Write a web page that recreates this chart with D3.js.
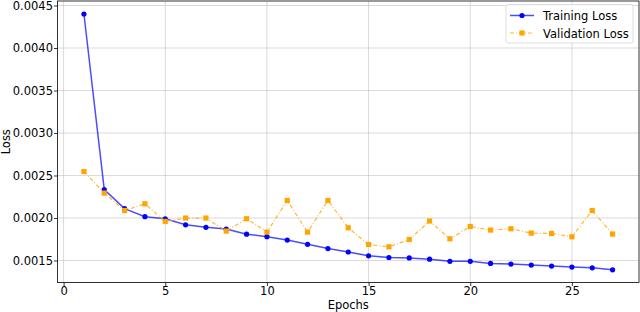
<!DOCTYPE html>
<html>
<head>
<meta charset="utf-8">
<script src="https://cdn.jsdelivr.net/npm/d3@7"></script>
<style>
  body { margin: 0; background: #fff; }
  svg text { font-family: "DejaVu Sans", sans-serif; }
</style>
</head>
<body>
<svg width="640" height="312"></svg>
<script>
// data
var epochs = [1,2,3,4,5,6,7,8,9,10,11,12,13,14,15,16,17,18,19,20,21,22,23,24,25,26,27];
var trainLoss = [0.00440,0.002335,0.00211,0.002015,0.00199,0.00192,0.00189,0.00187,0.00181,0.00178,
                 0.00174,0.00169,0.00164,0.00160,0.001555,0.001535,0.00153,0.001515,0.00149,0.00149,
                 0.001465,0.001458,0.001446,0.001434,0.001422,0.001414,0.00139];
var valLoss = [0.002547,0.002293,0.002088,0.002167,0.001959,0.001999,0.001999,0.001846,0.001991,0.001834,
               0.002206,0.001834,0.002206,0.001885,0.001688,0.001661,0.001747,0.001964,0.001755,0.0019,
               0.001858,0.001873,0.001822,0.001818,0.001779,0.002088,0.001811];
var xTicks = [0,5,10,15,20,25];
var yTicks = [0.0015,0.0020,0.0025,0.0030,0.0035,0.0040,0.0045];

var margins = {top:1, left:57.5, right:1, bottom:29.5};
var width = 640 - margins.left - margins.right;
var height = 312 - margins.top - margins.bottom;

var svg = d3.select("svg");
var g = svg.append("g").attr("transform", "translate(" + margins.left + "," + margins.top + ")");

//scales
var xScale = d3.scaleLinear().domain([-0.3, 28.3]).range([0, width]);
var yScale = d3.scaleLinear().domain([0.001241, 0.004553]).range([height, 0]);

//grid
g.selectAll(".vgrid").data(xTicks).enter().append("line")
  .attr("x1", d => xScale(d)).attr("x2", d => xScale(d))
  .attr("y1", 0).attr("y2", height)
  .attr("stroke", "#b0b0b0").attr("stroke-opacity", 0.6).attr("stroke-width", 0.8);
g.selectAll(".hgrid").data(yTicks).enter().append("line")
  .attr("y1", d => yScale(d)).attr("y2", d => yScale(d))
  .attr("x1", 0).attr("x2", width)
  .attr("stroke", "#b0b0b0").attr("stroke-opacity", 0.6).attr("stroke-width", 0.8);

//axes
var xAxis = g.append("g")
  .attr("transform", "translate(0," + height + ")")
  .call(d3.axisBottom(xScale).tickValues(xTicks).tickSize(3.5).tickPadding(1));
var yAxis = g.append("g")
  .call(d3.axisLeft(yScale).tickValues(yTicks).tickSize(3.5).tickPadding(1).tickFormat(d3.format(".4f")));
[xAxis, yAxis].forEach(function(a){
  a.select(".domain").remove();
  a.selectAll("text").attr("font-size", 11.5).attr("fill", "#000").attr("font-family", "DejaVu Sans");
  a.selectAll("line").attr("stroke", "#000").attr("stroke-width", 0.8);
});

//frame
g.append("rect").attr("x", 0).attr("y", 0).attr("width", width).attr("height", height)
  .attr("fill", "none").attr("stroke", "#000").attr("stroke-width", 0.8);

//lines
var trainLine = d3.line().x((d, i) => xScale(epochs[i])).y(d => yScale(d));
g.append("path").datum(trainLoss)
  .attr("d", trainLine).attr("fill", "none")
  .attr("stroke", "#0000ff").attr("stroke-opacity", 0.7).attr("stroke-width", 1.5);
g.selectAll(".tdot").data(trainLoss).enter().append("circle")
  .attr("cx", (d, i) => xScale(epochs[i])).attr("cy", d => yScale(d))
  .attr("r", 2.6).attr("fill", "#0000ff");

g.append("path").datum(valLoss)
  .attr("d", trainLine).attr("fill", "none")
  .attr("stroke", "#ffa500").attr("stroke-opacity", 0.8).attr("stroke-width", 1.2)
  .attr("stroke-dasharray", "4,2,1,2");
g.selectAll(".vdot").data(valLoss).enter().append("rect")
  .attr("x", (d, i) => xScale(epochs[i]) - 2.6).attr("y", d => yScale(d) - 2.6)
  .attr("width", 5.2).attr("height", 5.2).attr("fill", "#ffa500");

//axis labels
svg.append("text").attr("x", margins.left + width / 2).attr("y", 309)
  .attr("text-anchor", "middle").attr("font-size", 11.5).text("Epochs");
svg.append("text").attr("transform", "translate(9.5," + (margins.top + height / 2) + ")rotate(-90)")
  .attr("text-anchor", "middle").attr("font-size", 11.5).text("Loss");

//legend
var leg = svg.append("g").attr("transform", "translate(506,4.5)");
leg.append("rect").attr("width", 127).attr("height", 38.5).attr("rx", 2)
  .attr("fill", "#fff").attr("fill-opacity", 0.8).attr("stroke", "#d6d6d6").attr("stroke-width", 0.8);
leg.append("line").attr("x1", 4).attr("x2", 28).attr("y1", 11).attr("y2", 11)
  .attr("stroke", "#0000ff").attr("stroke-opacity", 0.7).attr("stroke-width", 1.5);
leg.append("circle").attr("cx", 16).attr("cy", 11).attr("r", 2.6).attr("fill", "#0000ff");
leg.append("line").attr("x1", 4).attr("x2", 28).attr("y1", 28.5).attr("y2", 28.5)
  .attr("stroke", "#ffa500").attr("stroke-opacity", 0.8).attr("stroke-width", 1.2)
  .attr("stroke-dasharray", "4,2,1,2");
leg.append("rect").attr("x", 13.4).attr("y", 25.9).attr("width", 5.2).attr("height", 5.2).attr("fill", "#ffa500");
leg.append("text").attr("x", 37).attr("y", 15.5).attr("font-size", 11.5).text("Training Loss");
leg.append("text").attr("x", 37).attr("y", 33).attr("font-size", 11.5).text("Validation Loss");
</script>
</body>
</html>
